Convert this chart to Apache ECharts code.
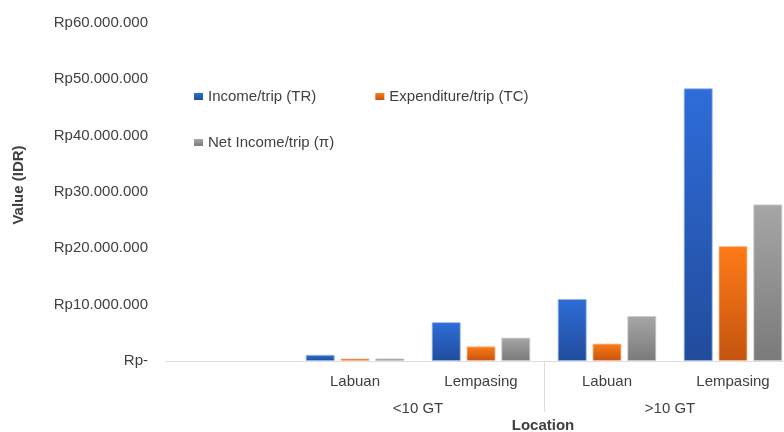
<!DOCTYPE html>
<html>
<head>
<meta charset="utf-8">
<script src="https://cdn.jsdelivr.net/npm/echarts@6/dist/echarts.min.js"></script>
<style>
  html, body { margin: 0; padding: 0; background: #fff; }
  #chart { width: 784px; height: 432px; }
</style>
</head>
<body>
<div id="chart"></div>
<script>
// data (IDR)
const categories = ['', 'Labuan', 'Lempasing', 'Labuan', 'Lempasing']
const groupOf = ['', '<10 GT', '<10 GT', '>10 GT', '>10 GT']
const income = [null, 1100000, 6900000, 11000000, 48400000]
const expenditure = [null, 450000, 2600000, 3100000, 20400000]
const netIncome = [null, 450000, 4150000, 8000000, 27800000]
const seriesNames = ['Income/trip (TR)', 'Expenditure/trip (TC)', 'Net Income/trip (\u03c0)']
const yTicks = [0, 10000000, 20000000, 30000000, 40000000, 50000000, 60000000]

const font = 'Arial, "Liberation Sans", sans-serif'
const textColor = '#404040'

// one label per group, placed on a half-step axis (2 slots per category)
const groupSlots = new Array(categories.length * 2 + 1).fill('')
const groupNames = [...new Set(groupOf.filter(g => g))]
groupNames.forEach(g => {
  const first = groupOf.indexOf(g)
  const last = groupOf.lastIndexOf(g)
  groupSlots[first + last + 1] = g
})
// slot of the boundary between the groups
const splitSlot = groupOf.indexOf(groupNames[1]) * 2

function rp(v) {
  if (v === 0) return 'Rp-'
  return 'Rp' + String(v).replace(/\B(?=(\d{3})+(?!\d))/g, '.')
}

function grad(top, bottom) {
  return new echarts.graphic.LinearGradient(0, 0, 0, 1, [
    { offset: 0, color: top },
    { offset: 1, color: bottom }
  ])
}

const chart = echarts.init(document.getElementById('chart'))
const barBase = {
  type: 'bar',
  barWidth: 29,
  barGap: '20%',
  xAxisIndex: 0
}
const legendBase = {
  icon: 'rect',
  itemWidth: 9,
  itemHeight: 7,
  itemStyle: { borderWidth: 0 },
  textStyle: { fontSize: 15, color: textColor, fontFamily: font }
}

const option = {
  animation: false,
  textStyle: { fontFamily: font },
  grid: {
    left: 166,
    top: 23,
    width: 630,
    height: 338,
    outerBoundsMode: 'none'
  },
  legend: [
    Object.assign({}, legendBase, {
      data: [seriesNames[0], seriesNames[1]],
      left: 189,
      top: 84,
      itemGap: 59
    }),
    Object.assign({}, legendBase, {
      data: [seriesNames[2]],
      left: 189,
      top: 130
    })
  ],
  xAxis: [
    {
      type: 'category',
      data: categories,
      axisLine: { lineStyle: { color: '#D9DEE6', width: 1 } },
      axisTick: { show: false },
      axisLabel: {
        interval: 0,
        margin: 13,
        fontSize: 15,
        color: textColor,
        fontFamily: font
      }
    },
    {
      type: 'category',
      position: 'bottom',
      boundaryGap: false,
      data: groupSlots,
      axisLine: { show: false },
      axisTick: {
        show: true,
        length: 51,
        interval: (index) => index === splitSlot,
        lineStyle: { color: '#D9DEE6' }
      },
      axisLabel: {
        interval: 0,
        margin: 40,
        fontSize: 15,
        color: textColor,
        fontFamily: font
      },
      name: 'Location',
      nameLocation: 'middle',
      nameGap: 57,
      nameMoveOverlap: false,
      nameTextStyle: {
        fontSize: 15,
        fontWeight: 'bold',
        color: textColor,
        fontFamily: font,
        padding: [0, 0, 0, 124]
      }
    }
  ],
  yAxis: {
    type: 'value',
    min: 0,
    max: 60000000,
    interval: 10000000,
    axisLine: { show: false },
    axisTick: { show: false },
    splitLine: { show: false },
    axisLabel: {
      margin: 18,
      fontSize: 15,
      color: textColor,
      fontFamily: font,
      formatter: (v) => (yTicks.includes(v) ? rp(v) : '')
    },
    name: 'Value (IDR)',
    nameLocation: 'middle',
    nameGap: 140,
    nameTextStyle: {
      fontSize: 15,
      fontWeight: 'bold',
      color: textColor,
      fontFamily: font,
      padding: [0, 0, 0, 14]
    }
  },
  series: [
    Object.assign({}, barBase, {
      name: seriesNames[0],
      data: income,
      itemStyle: {
        color: grad('#2E6DD8', '#214C9C'),
        borderColor: 'rgba(150,180,235,0.8)',
        borderWidth: 1
      }
    }),
    Object.assign({}, barBase, {
      name: seriesNames[1],
      data: expenditure,
      itemStyle: {
        color: grad('#FF7B17', '#C4540F'),
        borderColor: 'rgba(250,190,150,0.8)',
        borderWidth: 1
      }
    }),
    Object.assign({}, barBase, {
      name: seriesNames[2],
      data: netIncome,
      itemStyle: {
        color: grad('#A6A6A6', '#7A7A7A'),
        borderColor: 'rgba(205,205,205,0.8)',
        borderWidth: 1
      }
    })
  ]
}

chart.setOption(option)
window.onresize = () => {
  chart.resize()
}
</script>
</body>
</html>
